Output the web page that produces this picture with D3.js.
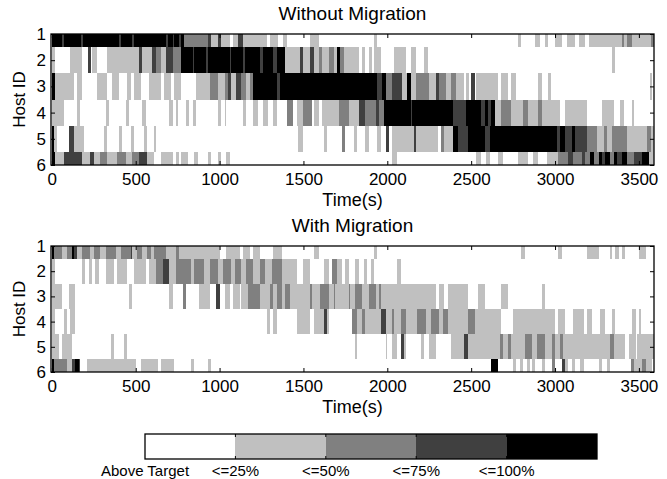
<!DOCTYPE html>
<html>
<head>
<meta charset="utf-8">
<script src="https://cdn.jsdelivr.net/npm/d3@7"></script>
<style>
  body { margin: 0; background: #fff; }
  svg { display: block; font-family: "Liberation Sans", Arial, sans-serif; }
  .axis text { font-size: 17px; fill: #000; }
  .axis line { stroke: #000; }
</style>
</head>
<body>
<div id="chart"></div>
<script>
  const xTicks = [0, 500, 1000, 1500, 2000, 2500, 3000, 3500];
  const hostIds = [1, 2, 3, 4, 5, 6];
  const levelColors = ['#ffffff', '#c0c0c0', '#808080', '#404040', '#000000'];
  const levelLabels = ['Above Target', '<=25%', '<=50%', '<=75%', '<=100%'];

  // segments per host: [start (s), end (s), load level 0-4], white where not listed
  const noMigHost1 = [[0, 790, 4], [60, 70, 3], [175, 185, 3], [400, 410, 3], [480, 490, 3], [680, 690, 3], [720, 730, 3], [760, 770, 3], [790, 930, 2], [930, 950, 3], [950, 990, 1], [990, 1010, 3], [1010, 1060, 1], [1080, 1110, 1], [1110, 1140, 3], [1140, 1280, 1], [1300, 1350, 1], [1380, 1400, 1], [1540, 1590, 1], [1920, 1940, 1], [2780, 2800, 1], [2880, 2910, 1], [2940, 2960, 1], [3000, 3040, 1], [3070, 3120, 1], [3140, 3180, 1], [3200, 3400, 1], [3400, 3410, 2], [3410, 3430, 1], [3430, 3460, 2], [3460, 3570, 1], [3570, 3590, 2]];
  const noMigHost2 = [[0, 20, 1], [110, 180, 1], [215, 235, 3], [240, 270, 1], [330, 520, 1], [520, 540, 3], [540, 600, 1], [600, 620, 3], [620, 650, 2], [650, 680, 1], [680, 720, 3], [720, 770, 2], [770, 1390, 4], [840, 850, 3], [920, 930, 3], [1060, 1070, 3], [1140, 1150, 3], [1240, 1260, 3], [1320, 1340, 3], [1390, 1480, 1], [1480, 1500, 3], [1500, 1540, 1], [1540, 1560, 3], [1560, 1590, 1], [1590, 1610, 2], [1610, 1650, 1], [1650, 1680, 2], [1680, 1700, 1], [1700, 1720, 4], [1720, 1740, 2], [1740, 1830, 1], [1850, 1870, 1], [1890, 1910, 1], [1920, 1960, 1], [2040, 2110, 1], [2140, 2170, 1], [2220, 2240, 1], [3340, 3355, 1]];
  const noMigHost3 = [[0, 20, 4], [20, 130, 1], [150, 180, 1], [270, 330, 1], [360, 400, 1], [450, 470, 1], [490, 530, 1], [580, 650, 1], [670, 710, 1], [730, 770, 1], [860, 940, 1], [940, 990, 2], [990, 1030, 1], [1030, 1050, 2], [1050, 1070, 3], [1070, 1100, 1], [1100, 1130, 3], [1130, 1160, 2], [1160, 1180, 1], [1180, 1200, 2], [1200, 1940, 4], [1340, 1360, 3], [1940, 1970, 3], [1970, 1990, 4], [1990, 2030, 2], [2030, 2090, 3], [2090, 2120, 1], [2120, 2140, 4], [2140, 2170, 1], [2170, 2250, 2], [2250, 2290, 1], [2290, 2310, 3], [2310, 2350, 2], [2350, 2380, 1], [2380, 2410, 2], [2410, 2460, 1], [2470, 2490, 1], [2500, 2520, 3], [2530, 2660, 1], [2680, 2720, 1], [2740, 2770, 1], [2900, 2920, 1], [2960, 2975, 1], [3565, 3580, 1]];
  const noMigHost4 = [[0, 70, 1], [150, 170, 1], [320, 340, 1], [440, 460, 1], [540, 560, 1], [700, 720, 1], [740, 750, 1], [800, 820, 1], [840, 860, 1], [990, 1010, 1], [1030, 1040, 1], [1140, 1160, 1], [1200, 1230, 1], [1260, 1290, 1], [1320, 1340, 1], [1400, 1440, 2], [1460, 1500, 1], [1500, 1550, 2], [1560, 1590, 1], [1610, 1710, 1], [1710, 1770, 2], [1770, 1830, 1], [1830, 1870, 3], [1870, 1930, 2], [1930, 1950, 3], [1950, 1980, 2], [1980, 2390, 4], [2140, 2150, 3], [2390, 2470, 3], [2470, 2560, 4], [2560, 2580, 3], [2580, 2600, 4], [2600, 2620, 3], [2620, 2640, 4], [2640, 2680, 1], [2680, 2740, 2], [2740, 2810, 1], [2810, 2840, 2], [2840, 2900, 1], [2900, 2920, 2], [2920, 3030, 1], [3060, 3190, 1], [3280, 3350, 1], [3390, 3410, 1], [3460, 3470, 1]];
  const noMigHost5 = [[0, 10, 4], [10, 30, 1], [100, 130, 3], [130, 190, 1], [310, 330, 1], [400, 420, 1], [470, 490, 1], [550, 570, 1], [610, 620, 1], [1470, 1500, 1], [1620, 1640, 1], [1730, 1750, 2], [1800, 1820, 1], [1870, 1890, 1], [1940, 1960, 1], [1990, 2010, 3], [2030, 2160, 1], [2160, 2170, 3], [2170, 2300, 1], [2320, 2340, 2], [2340, 2390, 1], [2390, 2420, 4], [2420, 2480, 3], [2480, 2580, 4], [2580, 2610, 3], [2610, 3010, 4], [3010, 3030, 3], [3030, 3060, 4], [3060, 3100, 3], [3100, 3120, 4], [3120, 3190, 3], [3190, 3250, 2], [3250, 3290, 1], [3290, 3310, 2], [3310, 3340, 1], [3340, 3430, 2], [3430, 3550, 1], [3550, 3570, 2], [3570, 3590, 1]];
  const noMigHost6 = [[0, 20, 4], [20, 70, 1], [70, 180, 3], [180, 230, 1], [230, 250, 3], [250, 290, 1], [290, 330, 2], [330, 390, 1], [390, 440, 2], [440, 480, 1], [480, 520, 2], [520, 570, 3], [570, 610, 1], [650, 720, 1], [740, 760, 1], [770, 810, 1], [850, 870, 1], [930, 950, 1], [990, 1010, 1], [1040, 1060, 1], [2030, 2060, 1], [2530, 2560, 1], [2590, 2610, 1], [2660, 2690, 1], [2780, 2840, 1], [2870, 2900, 1], [2950, 3020, 1], [3020, 3080, 2], [3080, 3110, 3], [3110, 3160, 2], [3160, 3180, 3], [3180, 3210, 2], [3210, 3230, 4], [3230, 3260, 2], [3260, 3280, 4], [3280, 3300, 3], [3300, 3330, 4], [3330, 3350, 2], [3350, 3370, 4], [3370, 3400, 3], [3400, 3430, 4], [3430, 3470, 2], [3470, 3520, 3], [3520, 3560, 4], [3560, 3590, 1]];

  const migHost1 = [[0, 10, 4], [10, 60, 2], [60, 90, 1], [90, 120, 2], [120, 130, 4], [130, 150, 3], [150, 180, 1], [180, 230, 2], [230, 250, 1], [250, 290, 2], [290, 320, 1], [320, 380, 2], [380, 410, 1], [410, 470, 2], [470, 480, 3], [480, 510, 1], [510, 540, 2], [540, 570, 1], [570, 590, 2], [590, 610, 1], [610, 680, 2], [680, 740, 1], [740, 760, 2], [760, 1000, 1], [1040, 1120, 1], [1140, 1180, 1], [1200, 1240, 1], [1320, 1370, 1], [1560, 1590, 1], [1920, 1940, 1], [2800, 2820, 1], [3020, 3040, 1], [3190, 3260, 1], [3330, 3340, 1], [3360, 3380, 1], [3400, 3420, 1], [3500, 3540, 1]];
  const migHost2 = [[0, 20, 1], [180, 200, 1], [220, 240, 1], [260, 280, 1], [320, 370, 1], [390, 450, 1], [490, 560, 1], [580, 620, 1], [620, 660, 2], [660, 700, 3], [700, 740, 1], [740, 830, 2], [830, 850, 1], [850, 910, 2], [910, 940, 1], [940, 990, 2], [990, 1020, 1], [1020, 1070, 2], [1070, 1090, 1], [1090, 1130, 2], [1130, 1160, 1], [1160, 1200, 2], [1200, 1240, 1], [1240, 1270, 2], [1270, 1310, 1], [1310, 1370, 2], [1370, 1460, 1], [1500, 1540, 1], [1620, 1650, 1], [1670, 1700, 2], [1700, 1730, 1], [1750, 1770, 1], [1810, 1830, 1], [1860, 1880, 1], [1900, 1920, 1], [2060, 2080, 1]];
  const migHost3 = [[0, 60, 1], [100, 140, 1], [460, 480, 1], [700, 720, 1], [780, 800, 2], [880, 940, 1], [980, 1000, 3], [1030, 1060, 1], [1080, 1120, 1], [1130, 1170, 1], [1170, 1240, 2], [1240, 1300, 1], [1300, 1320, 2], [1320, 1340, 1], [1340, 1370, 2], [1370, 1390, 1], [1390, 1420, 2], [1420, 1540, 1], [1540, 1550, 2], [1550, 1600, 1], [1600, 1650, 2], [1650, 1680, 1], [1680, 1690, 2], [1690, 1770, 1], [1770, 1780, 2], [1780, 1810, 1], [1810, 1850, 2], [1850, 1890, 1], [1890, 1930, 2], [1930, 1950, 1], [1950, 1960, 2], [1960, 2290, 1], [2310, 2340, 1], [2360, 2480, 1], [2540, 2580, 1], [2680, 2720, 1], [2920, 2940, 1]];
  const migHost4 = [[0, 20, 1], [70, 90, 1], [110, 140, 1], [1280, 1300, 1], [1320, 1340, 1], [1460, 1540, 1], [1560, 1620, 1], [1620, 1640, 3], [1640, 1650, 1], [1790, 1820, 2], [1820, 1850, 1], [1850, 1870, 2], [1870, 1960, 1], [1960, 1990, 3], [1990, 2030, 1], [2030, 2040, 2], [2040, 2080, 1], [2080, 2110, 2], [2110, 2180, 1], [2180, 2230, 2], [2230, 2260, 1], [2260, 2310, 2], [2310, 2330, 1], [2330, 2360, 2], [2360, 2480, 1], [2480, 2520, 2], [2520, 2680, 1], [2750, 3000, 1], [3020, 3060, 1], [3110, 3170, 1], [3190, 3220, 1], [3270, 3300, 1], [3340, 3360, 1], [3460, 3480, 1], [3500, 3510, 1]];
  const migHost5 = [[0, 40, 1], [60, 120, 1], [350, 370, 1], [430, 450, 1], [1810, 1820, 1], [1990, 2000, 1], [2030, 2060, 1], [2080, 2100, 3], [2100, 2110, 1], [2200, 2220, 1], [2250, 2290, 1], [2380, 2460, 1], [2460, 2480, 3], [2480, 2670, 1], [2670, 2690, 2], [2690, 2720, 1], [2720, 2740, 2], [2740, 2820, 1], [2820, 2860, 2], [2860, 2890, 1], [2890, 2940, 2], [2940, 2980, 1], [2980, 3000, 2], [3000, 3030, 1], [3030, 3045, 2], [3045, 3330, 1], [3330, 3350, 2], [3350, 3420, 1], [3440, 3480, 1], [3490, 3590, 1]];
  const migHost6 = [[0, 10, 4], [10, 90, 2], [90, 120, 1], [120, 140, 3], [140, 160, 4], [160, 170, 3], [210, 500, 1], [530, 630, 1], [650, 730, 1], [830, 850, 1], [930, 950, 1], [2620, 2660, 4], [2750, 2770, 1], [2790, 2810, 1], [2830, 2850, 1], [2860, 2880, 1], [2920, 2940, 1], [2980, 3000, 2], [3040, 3060, 3], [3060, 3080, 1], [3100, 3120, 1], [3150, 3170, 1], [3260, 3280, 1], [3310, 3330, 1], [3450, 3470, 2], [3470, 3520, 1], [3520, 3540, 2], [3540, 3580, 1]];

  const width = 667;
  const height = 479;

  const svg = d3.select('#chart').append('svg')
    .attr('width', width)
    .attr('height', height);

  const x = d3.scaleLinear().domain([-5, 3590]).range([51, 654]);
  const xMid = (x.range()[0] + x.range()[1]) / 2;
  const intFormat = d3.format('d');

  const panels = [
    { title: 'Without Migration', hosts: [noMigHost1, noMigHost2, noMigHost3, noMigHost4, noMigHost5, noMigHost6], top: 34, bottom: 165 },
    { title: 'With Migration', hosts: [migHost1, migHost2, migHost3, migHost4, migHost5, migHost6], top: 246, bottom: 372 },
  ];

  function drawPanel(p, idx) {
    const y = d3.scaleLinear().domain([1, 6]).range([p.top, p.bottom]);
    const [x0, x1] = x.range();

    svg.append('clipPath').attr('id', `clip${idx}`)
      .append('rect')
      .attr('x', x0).attr('y', p.top)
      .attr('width', x1 - x0).attr('height', p.bottom - p.top);

    const cells = svg.append('g').attr('clip-path', `url(#clip${idx})`);

    p.hosts.forEach((segs, i) => {
      const h = hostIds[i];
      cells.append('g').selectAll('rect')
        .data(segs)
        .join('rect')
        .attr('x', (d) => x(d[0]))
        .attr('width', (d) => x(d[1]) - x(d[0]))
        .attr('y', y(h - 0.5))
        .attr('height', y(h + 0.5) - y(h - 0.5))
        .attr('fill', (d) => levelColors[d[2]])
        .attr('shape-rendering', 'crispEdges');
    });

    // ticks point inward on all four sides
    const bottomAxis = svg.append('g').attr('class', 'axis')
      .attr('transform', `translate(0,${p.bottom})`)
      .call(d3.axisBottom(x).tickValues(xTicks).tickFormat(intFormat)
        .tickSizeInner(-4).tickSizeOuter(0).tickPadding(8));
    const topAxis = svg.append('g').attr('class', 'axis')
      .attr('transform', `translate(0,${p.top})`)
      .call(d3.axisTop(x).tickValues(xTicks).tickSizeInner(-4).tickSizeOuter(0).tickFormat(''));
    const leftAxis = svg.append('g').attr('class', 'axis')
      .attr('transform', `translate(${x0},0)`)
      .call(d3.axisLeft(y).tickValues(hostIds).tickFormat(intFormat)
        .tickSizeInner(-4).tickSizeOuter(0).tickPadding(5));
    const rightAxis = svg.append('g').attr('class', 'axis')
      .attr('transform', `translate(${x1},0)`)
      .call(d3.axisRight(y).tickValues(hostIds).tickSizeInner(-4).tickSizeOuter(0).tickFormat(''));

    [bottomAxis, topAxis, leftAxis, rightAxis].forEach((a) => {
      a.select('.domain').remove();
      a.attr('font-family', null).attr('font-size', null);
    });

    svg.append('rect')
      .attr('x', x0).attr('y', p.top)
      .attr('width', x1 - x0).attr('height', p.bottom - p.top)
      .attr('fill', 'none')
      .attr('stroke', '#000')
      .attr('stroke-width', 1.3);

    svg.append('text')
      .attr('x', xMid).attr('y', p.top - 14)
      .attr('text-anchor', 'middle')
      .attr('font-size', 19)
      .text(p.title);

    svg.append('text')
      .attr('x', xMid).attr('y', p.bottom + 41)
      .attr('text-anchor', 'middle')
      .attr('font-size', 18)
      .text('Time(s)');

    svg.append('text')
      .attr('transform', `translate(25,${(p.top + p.bottom) / 2}) rotate(-90)`)
      .attr('text-anchor', 'middle')
      .attr('font-size', 17)
      .text('Host ID');
  }

  panels.forEach(drawPanel);

  // colour bar legend
  const cb = d3.scaleLinear().domain([0, levelColors.length]).range([145, 597]);
  const cbTop = 434;
  const cbHeight = 25;
  const legend = svg.append('g');

  legend.selectAll('rect.level')
    .data(levelColors)
    .join('rect')
    .attr('class', 'level')
    .attr('x', (d, i) => cb(i))
    .attr('y', cbTop)
    .attr('width', (d, i) => cb(i + 1) - cb(i))
    .attr('height', cbHeight)
    .attr('fill', (d) => d)
    .attr('shape-rendering', 'crispEdges');

  legend.selectAll('line.tick')
    .data(d3.range(1, levelColors.length).flatMap((i) => [[i, cbTop, cbTop + 3], [i, cbTop + cbHeight - 3, cbTop + cbHeight]]))
    .join('line')
    .attr('class', 'tick')
    .attr('x1', (d) => cb(d[0])).attr('x2', (d) => cb(d[0]))
    .attr('y1', (d) => d[1]).attr('y2', (d) => d[2])
    .attr('stroke', '#000');

  legend.append('rect')
    .attr('x', cb.range()[0]).attr('y', cbTop)
    .attr('width', cb.range()[1] - cb.range()[0]).attr('height', cbHeight)
    .attr('fill', 'none')
    .attr('stroke', '#000')
    .attr('stroke-width', 1.3);

  legend.selectAll('text')
    .data(levelLabels)
    .join('text')
    .attr('x', (d, i) => cb(i))
    .attr('y', 476)
    .attr('text-anchor', 'middle')
    .attr('font-size', 15)
    .text((d) => d);
</script>
</body>
</html>
